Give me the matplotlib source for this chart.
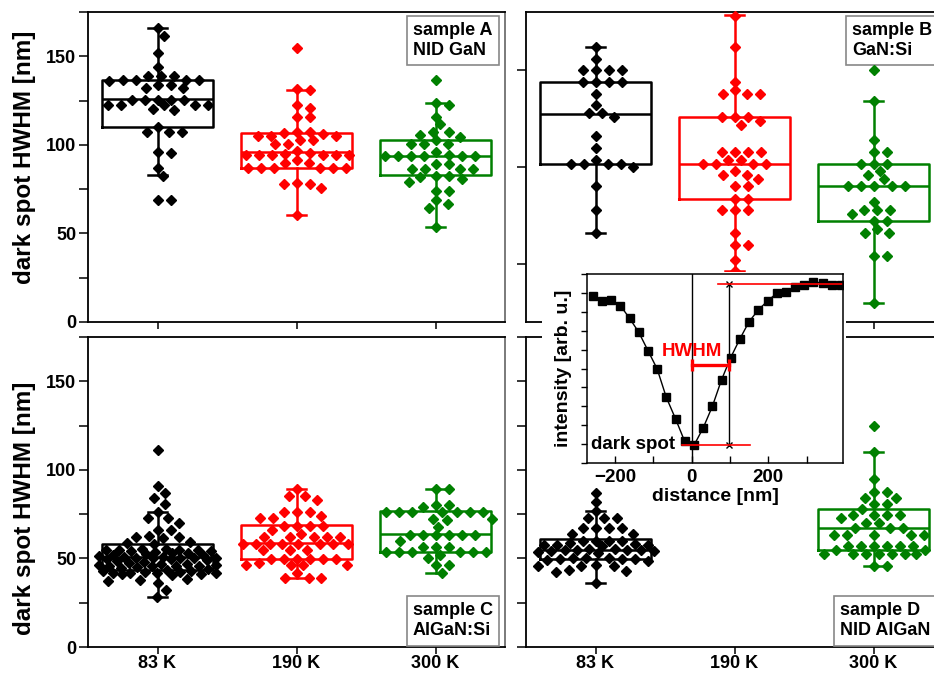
import numpy as np
import matplotlib
matplotlib.use('Agg')
import matplotlib.pyplot as plt
from matplotlib.ticker import MultipleLocator, FixedLocator, NullLocator
from matplotlib.patches import Rectangle

plt.rcParams['font.family'] = ['Liberation Sans', 'DejaVu Sans']
plt.rcParams['font.weight'] = 'bold'
plt.rcParams['axes.labelweight'] = 'bold'

temps = ['83 K', '190 K', '300 K']
colors = ['black', '#ff0000', '#008000']

# dark spot HWHM [nm]
a_83 = [166, 161.7, 151.7, 143.8, 139.1, 139.1, 139.1, 136.8, 136.8, 136.8, 136.8, 136.3,
        134, 134, 132, 132, 125.6, 125.6, 125.6, 125.6, 125.6, 122.6, 122.6, 122.6, 122.6,
        122.6, 120, 119.5, 110, 107, 107, 107, 96, 95.5, 86.8, 82.3, 68.6, 68.6]
a_190 = [154.7, 131.5, 131, 122.7, 120.9, 115.6, 115.6, 107.5, 107.5, 106.8, 106, 105.2,
         105.2, 105.2, 102.8, 102.8, 100.6, 100.6, 96.8, 95.5, 94.8, 94.5, 94.5, 94.5, 94.5,
         94.5, 94.5, 91.5, 89.5, 89.5, 86.8, 86.8, 86.8, 86.8, 86.8, 86.8, 78, 78, 78.6,
         75.7, 60.5]
a_300 = [136.7, 122.7, 123.5, 116, 111.5, 107.5, 107.5, 105.8, 104.7, 102.8, 100.3, 100.3,
         100.3, 95.9, 93.8, 93.8, 93.8, 93.8, 93.8, 93.8, 94.5, 89.2, 89.2, 86.5, 86.5, 86.5,
         86.5, 82.5, 82.5, 82, 80.8, 79, 73.9, 73.9, 68.6, 66.7, 64.5, 53.6]

b_83 = [161.9, 155.9, 149.9, 149.9, 149.9, 149.9, 143.9, 143.9, 143.9, 143.9, 137.8, 131.8,
        127.9, 127.9, 125.8, 115.8, 110, 103.8, 101.7, 101.7, 101.7, 101.7, 100, 90, 77.6,
        65.9]
b_190 = [178, 161.9, 143.9, 139.5, 137.8, 137.8, 137.8, 125.8, 125.8, 125.8, 123.7, 121.8,
         107.7, 107.7, 107.7, 107.7, 103.8, 103.8, 101.7, 101.7, 101.7, 101.7, 97.8, 96, 96,
         93.6, 90, 90, 83.7, 83.7, 77.6, 77.6, 77.6, 65.9, 59.6, 59.6, 51.8, 46.3]
b_300 = [149.9, 134, 113.8, 107.7, 107.7, 101.7, 101.7, 101.7, 97.8, 96, 93.6, 90, 90, 90,
         90, 90, 81.9, 77.6, 77.6, 77.6, 75.9, 72.1, 72.1, 67.8, 65.9, 65.9, 53.9, 53.9, 29.8]

c_83 = [111, 91, 86.8, 84, 81, 76, 72.6, 72.6, 69.8, 66, 66, 62.5, 62, 61.5, 62, 59, 58.5,
        58, 55.5, 54, 53, 55, 54.5, 52.5, 53.5, 54, 55, 54.5, 53, 55.5, 52, 50.5, 49.5, 50,
        51, 49, 50.5, 48.5, 50, 51.5, 49.5, 51, 48, 52, 50, 46.5, 45.5, 47, 46, 46.5, 45,
        47.5, 46, 47, 44.5, 45.5, 44, 42, 43, 41.5, 42.5, 42, 41, 43.5, 42, 40.5, 43, 42.5,
        41, 38.5, 37.5, 38, 36, 32, 28.3]
c_190 = [89, 85, 85, 83, 76, 76, 76, 74, 73, 73, 68.5, 68.5, 68.5, 68.5, 66, 64, 62, 62, 62,
         62, 62, 58, 58, 58, 58, 58, 58, 58, 58, 54.5, 54.5, 54.5, 49.5, 49.5, 49.5, 49.5,
         49.5, 49.5, 46.5, 46.5, 46.5, 46.5, 47.5, 41.5, 39, 39, 39]
c_300 = [89, 89, 80, 80, 79, 76, 76, 76, 76, 76, 76, 76, 71.5, 72.5, 72.5, 68, 63, 63, 63,
         63, 63, 63, 59.8, 56.6, 56.6, 56.6, 53.8, 53.8, 52, 53.8, 53.8, 53.8, 53.8, 50,
         46.2, 46.2, 41.9]

d_83 = [86.8, 82, 76.8, 73, 73, 73, 67, 67, 67, 67, 64, 64, 59.8, 59.8, 59.8, 59.8, 57.7,
        58.5, 57, 57.7, 58, 57.7, 54.7, 55.5, 54, 54.7, 55, 54.2, 54.7, 55.5, 53, 53.5, 49.4,
        50, 49, 49.4, 50.5, 48.5, 49.4, 50, 46, 46.5, 45.5, 46, 43, 43.5, 42.5, 36.4]
d_190 = []
d_300 = [124.9, 109.8, 94.7, 87.5, 87.5, 84, 84, 80.5, 80.5, 78, 74.5, 74.5, 74.5, 74.5,
         72.6, 70, 70, 67, 67, 67, 63, 63, 63, 63, 63, 57, 57, 57, 57, 57, 57, 52.5, 52.5,
         52.5, 52.5, 52.5, 52.5, 52.5, 54.7, 54.7, 45.7, 45.7]

# box statistics (whisker low, q1, median, q3, whisker high)
box_a = [(82.9, 109.8, 125.8, 136.8, 166), (60.5, 86.8, 95.9, 106.8, 131),
         (53.6, 83.1, 93.8, 102.8, 123.5)]
box_b = [(65.9, 101.7, 127.5, 143.9, 161.9), (46.3, 83.7, 101.7, 125.8, 178.3),
         (29.8, 72.1, 90, 101.7, 134)]
box_c = [(28.3, 43.4, 50.9, 57.9, 76), (38.7, 49.4, 58.5, 68.9, 89),
         (41.9, 53.8, 63.8, 76.8, 89)]
box_d = [(36.4, 49.4, 54.7, 60.8, 76.8), None, (45.7, 54.7, 67, 77.7, 109.8)]

# inset: line profile across a dark spot
dist = [-258, -234, -210, -186, -162, -138, -114, -90, -66, -42, -18, 6, 30, 54, 78, 102,
        126, 150, 174, 198, 222, 246, 270, 294, 318, 342, 366, 390]
inten = [88.6, 85.7, 86.3, 83.3, 76.6, 69.2, 59.5, 49.8, 34.7, 23.4, 11.4, 9.3, 18.5, 29.9,
         44.0, 55.8, 65.7, 74.8, 81.0, 85.7, 89.8, 90.3, 93.0, 94.2, 96.0, 95.1, 94.2, 94.2]
i_dark = 9.3
i_bright = 94.7
hwhm = 97.5

W, H = 934, 675
fig = plt.figure(figsize=(W / 100, H / 100), dpi=100)


def px_axes(l, t, r, b, **kw):
    return fig.add_axes([l / W, 1 - b / H, (r - l) / W, (b - t) / H], **kw)


def swarm(ax, pos, vals, dx0=13.0, dy0=8.5, step=1.0, half=0.42):
    # simple beeswarm: smallest free horizontal offset, kept inside +-half (data units)
    if len(vals) == 0:
        return np.array([])
    (x0, y0), (x1, y1) = ax.transData.transform([(0, 0), (1, 1)])
    sx, sy = x1 - x0, y1 - y0
    ys = np.asarray(vals, float) * sy
    n = int(half * sx / step)
    cands = np.array([0.0] + [s * j * step for j in range(1, n + 1) for s in (1, -1)])
    px, py = [], []
    xs = np.zeros(len(ys))
    for i in np.argsort(-ys, kind='stable'):
        if px:
            P = np.array(px)
            Q = np.array(py)
            d = ((cands[:, None] - P[None, :]) / dx0) ** 2 + ((ys[i] - Q[None, :]) / dy0) ** 2
            free = (d >= 1).all(axis=1)
            if free.any():
                c = cands[np.argmax(free)]
            else:
                c = cands[np.argmax(d.min(axis=1))]
        else:
            c = 0.0
        px.append(c)
        py.append(ys[i])
        xs[i] = pos + c / sx
    return xs


def panel(ax, groups, boxes, ylim, label, lpos, loc_bottom, show_x, show_y, major=50,
          minor=25):
    ax.set_xlim(0.5, 3.5)
    ax.set_ylim(*ylim)
    for i, (vals, st, col) in enumerate(zip(groups, boxes, colors)):
        pos = i + 1
        if st is not None:
            lo, q1, med, q3, hi = st
            ax.bxp([dict(whislo=lo, q1=q1, med=med, q3=q3, whishi=hi)], positions=[pos],
                   widths=0.8, showfliers=False, manage_ticks=False, capwidths=0.13,
                   boxprops=dict(color=col, lw=1.8), whiskerprops=dict(color=col, lw=1.8),
                   capprops=dict(color=col, lw=1.8), medianprops=dict(color=col, lw=1.8))
        xs = swarm(ax, pos, vals)
        ax.plot(xs, vals, 'D', color=col, ms=4.6, mec=col, zorder=4, clip_on=False)
    ax.set_xticks([1, 2, 3])
    ax.set_xticklabels(temps if show_x else [])
    ax.yaxis.set_major_locator(MultipleLocator(major))
    if minor:
        ax.yaxis.set_minor_locator(MultipleLocator(minor))
    else:
        ax.yaxis.set_minor_locator(NullLocator())
    if not show_y:
        ax.set_yticklabels([])
    ax.tick_params(which='both', direction='out', length=6.5, width=1.1, labelsize=13,
                   pad=2)
    ax.tick_params(axis='x', length=5, pad=1)
    for s in ax.spines.values():
        s.set_linewidth(1.3)
    if loc_bottom:
        ax.text(lpos, 0.025, label, transform=ax.transAxes, ha='left', va='bottom',
                fontsize=13, linespacing=1.25,
                bbox=dict(boxstyle='square,pad=0.35', fc='white', ec='#888888', lw=1.2))
    else:
        ax.text(lpos, 0.968, label, transform=ax.transAxes, ha='left', va='top',
                fontsize=13, linespacing=1.25,
                bbox=dict(boxstyle='square,pad=0.35', fc='white', ec='#888888', lw=1.2))


axA = px_axes(88, 12, 505, 322)
axB = px_axes(526, 12, 943, 322)
axC = px_axes(88, 337, 505, 647)
axD = px_axes(526, 337, 943, 647)

panel(axA, [a_83, a_190, a_300], box_a, (0, 175), 'sample A\nNID GaN', 0.779, False,
      False, True)
panel(axB, [b_83, b_190, b_300], box_b, (20, 180), 'sample B\nGaN:Si', 0.782, False,
      False, False, minor=None)
panel(axC, [c_83, c_190, c_300], box_c, (0, 175), 'sample C\nAlGaN:Si', 0.779, True,
      True, True)
panel(axD, [d_83, d_190, d_300], box_d, (0, 175), 'sample D\nNID AlGaN', 0.753, True,
      True, False)

for ax, yc in ((axA, 0.532), (axC, 0.448)):
    ax.spines['right'].set_color('#707070')
    ax.set_ylabel('dark spot HWHM [nm]', fontsize=17.5)
    ax.yaxis.set_label_coords(-0.125, yc)

# white area behind the inset and its labels
fig.add_artist(Rectangle((542 / W, 1 - 470 / H), (846 - 542) / W, (470 - 272) / H,
                         transform=fig.transFigure, fc='white', ec='none', zorder=3))

axI = px_axes(587, 274, 843, 463, zorder=5)
axI.plot(dist, inten, '-s', color='black', lw=1.0, ms=5.2)
axI.axvline(0, color='black', lw=1.0)
axI.plot([hwhm, hwhm], [i_dark, i_bright], '-x', color='black', lw=1.0, ms=4, mew=1)
axI.plot([hwhm - 28, 400], [i_bright, i_bright], color='red', lw=1.2, clip_on=True)
axI.plot([-26, 152], [i_dark, i_dark], color='red', lw=1.2)
mid = (i_dark + i_bright) / 2
axI.plot([0, hwhm], [mid, mid], color='red', lw=2.4, marker='|', ms=9, mew=2.4)
axI.text(0, 59, 'HWHM', color='red', ha='center', va='center', fontsize=13.5)
axI.text(-263, 10, 'dark spot', ha='left', va='center', fontsize=13.5)
axI.set_xlim(-273, 395)
axI.set_ylim(0, 100)
axI.xaxis.set_major_locator(FixedLocator([-200, 0, 200]))
axI.xaxis.set_minor_locator(FixedLocator([-100, 100, 300]))
axI.yaxis.set_major_locator(MultipleLocator(10))
axI.set_yticklabels([])
axI.tick_params(axis='x', which='both', direction='in', length=5, width=1, labelsize=13.5,
                pad=4)
axI.tick_params(axis='y', which='both', direction='out', length=4, width=1)
axI.set_xlabel('distance [nm]', fontsize=14, labelpad=2)
axI.set_ylabel('intensity [arb. u.]', fontsize=14, labelpad=3)
for s in axI.spines.values():
    s.set_linewidth(1.1)

fig.savefig('out.png', dpi=100)
